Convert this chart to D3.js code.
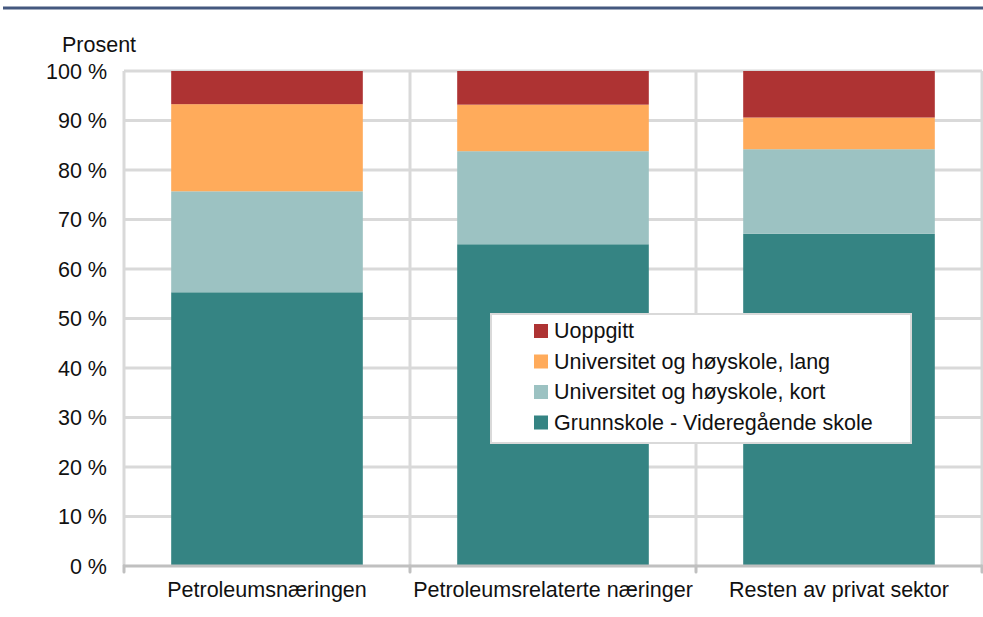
<!DOCTYPE html>
<html>
<head>
<meta charset="utf-8">
<script src="https://cdn.jsdelivr.net/npm/d3@7"></script>
<style>
  body { margin: 0; background: #fff; }
  svg { display: block; font-family: "Liberation Sans", Arial, sans-serif; }
</style>
</head>
<body>
<script>
// data (percent of employees)
const categories = ["Petroleumsnæringen", "Petroleumsrelaterte næringer", "Resten av privat sektor"];
const seriesNames = ["Grunnskole - Videregående skole", "Universitet og høyskole, kort", "Universitet og høyskole, lang", "Uoppgitt"];
const grunnskole = [55.3, 65.0, 67.1];
const hoyskoleKort = [20.4, 18.8, 17.1];
const hoyskoleLang = [17.6, 9.4, 6.4];
const uoppgitt = [6.7, 6.8, 9.4];
const yTicks = [0, 10, 20, 30, 40, 50, 60, 70, 80, 90, 100];
const colors = ["#358483", "#9cc2c2", "#ffab5b", "#ae3333"];

var width = 983, height = 617;
var margin = {top: 71, right: 1, bottom: 51, left: 124};
var innerW = width - margin.left - margin.right,
    innerH = height - margin.top - margin.bottom;
var fs = 21.5;

var table = categories.map(function(c, i) {
  var row = {cat: c};
  row[seriesNames[0]] = grunnskole[i];
  row[seriesNames[1]] = hoyskoleKort[i];
  row[seriesNames[2]] = hoyskoleLang[i];
  row[seriesNames[3]] = uoppgitt[i];
  return row;
});
var stacked = d3.stack().keys(seriesNames)(table);

var x = d3.scaleBand().domain(categories).range([0, innerW]).paddingInner(0.33).paddingOuter(0.165);
var y = d3.scaleLinear().domain([0, 100]).range([innerH, 0]);
var color = d3.scaleOrdinal().domain(seriesNames).range(colors);

var svg = d3.select("body").append("svg")
    .attr("width", width)
    .attr("height", height);

// blue rule at the very top (title above is cut off)
svg.append("rect")
    .attr("x", 3).attr("y", 6.5)
    .attr("width", width - 3).attr("height", 3)
    .attr("fill", "#44587f");

var g = svg.append("g")
    .attr("transform", "translate(" + margin.left + "," + margin.top + ")");

// horizontal gridlines
g.append("g")
  .selectAll("line")
  .data(yTicks.filter(function(d) { return d > 0; }))
  .enter().append("line")
    .attr("x1", 0).attr("x2", innerW)
    .attr("y1", function(d) { return y(d); })
    .attr("y2", function(d) { return y(d); })
    .attr("stroke", "#d9d9d9")
    .attr("stroke-width", 3);

// vertical gridlines between categories
var bounds = d3.range(categories.length + 1).map(function(i) { return i * innerW / categories.length; });
g.append("g")
  .selectAll("line")
  .data(bounds)
  .enter().append("line")
    .attr("x1", function(d) { return d; })
    .attr("x2", function(d) { return d; })
    .attr("y1", y(100)).attr("y2", innerH)
    .attr("stroke", "#d9d9d9")
    .attr("stroke-width", 3);

// bars
g.append("g")
  .selectAll("g")
  .data(stacked)
  .enter().append("g")
    .attr("fill", function(d) { return color(d.key); })
  .selectAll("rect")
  .data(function(d) { return d; })
  .enter().append("rect")
    .attr("x", function(d) { return x(d.data.cat); })
    .attr("y", function(d) { return y(d[1]); })
    .attr("height", function(d) { return y(d[0]) - y(d[1]); })
    .attr("width", x.bandwidth());

// x axis line and ticks
g.append("line")
    .attr("x1", -1).attr("x2", innerW)
    .attr("y1", innerH).attr("y2", innerH)
    .attr("stroke", "#c0c0c0")
    .attr("stroke-width", 3);
g.append("g")
  .selectAll("line")
  .data(bounds)
  .enter().append("line")
    .attr("x1", function(d) { return d; })
    .attr("x2", function(d) { return d; })
    .attr("y1", innerH).attr("y2", innerH + 6)
    .attr("stroke", "#c0c0c0")
    .attr("stroke-width", 3)
    .attr("stroke-linecap", "round");

// x labels
g.append("g")
  .selectAll("text")
  .data(categories)
  .enter().append("text")
    .attr("x", function(d) { return x(d) + x.bandwidth() / 2; })
    .attr("y", innerH + 31)
    .attr("text-anchor", "middle")
    .attr("font-size", fs)
    .attr("fill", "#111")
    .text(function(d) { return d; });

// y tick labels
g.append("g")
  .selectAll("text")
  .data(yTicks)
  .enter().append("text")
    .attr("x", -17)
    .attr("y", function(d) { return y(d); })
    .attr("dy", "0.36em")
    .attr("text-anchor", "end")
    .attr("font-size", fs)
    .attr("fill", "#111")
    .text(function(d) { return d + " %"; });

svg.append("text")
    .attr("x", 62).attr("y", 52)
    .attr("font-size", fs)
    .attr("fill", "#111")
    .text("Prosent");

// legend
var legend = svg.append("g").attr("transform", "translate(491,314)");
legend.append("rect")
    .attr("width", 420).attr("height", 129)
    .attr("fill", "#fff")
    .attr("stroke", "#d9d9d9")
    .attr("stroke-width", 2);
var items = legend.selectAll("g.item")
  .data(seriesNames.slice().reverse())
  .enter().append("g")
    .attr("class", "item")
    .attr("transform", function(d, i) { return "translate(43," + (10 + i * 30.5) + ")"; });
items.append("rect")
    .attr("width", 14).attr("height", 14)
    .attr("fill", function(d) { return color(d); });
items.append("text")
    .attr("x", 20).attr("y", 14)
    .attr("font-size", fs)
    .attr("fill", "#111")
    .text(function(d) { return d; });
</script>
</body>
</html>
